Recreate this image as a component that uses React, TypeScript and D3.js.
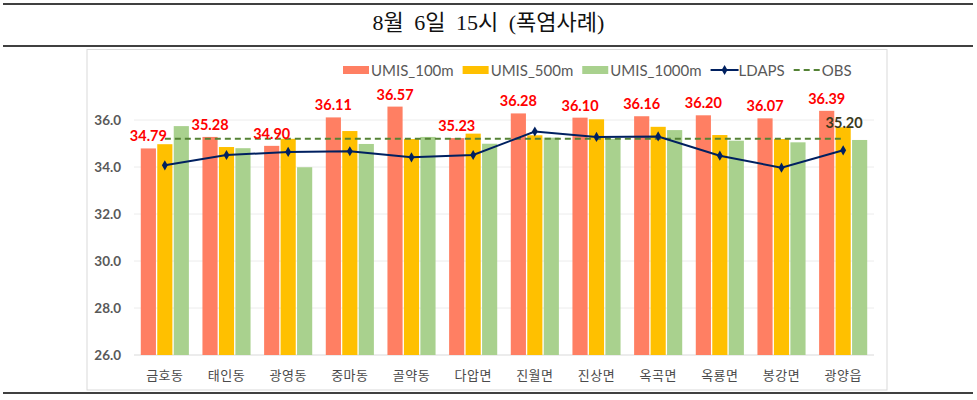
import React, { useRef, useEffect } from 'react';
import * as d3 from 'd3';

const categories = ['금호동', '태인동', '광영동', '중마동', '골약동', '다압면', '진월면', '진상면', '옥곡면', '옥룡면', '봉강면', '광양읍'];
const umis100 = [34.79, 35.28, 34.9, 36.11, 36.57, 35.23, 36.28, 36.1, 36.16, 36.2, 36.07, 36.39];
const umis500 = [34.97, 34.85, 35.2, 35.53, 35.19, 35.42, 35.35, 36.03, 35.71, 35.36, 35.19, 35.69];
const umis1000 = [35.74, 34.8, 33.99, 34.98, 35.28, 34.99, 35.25, 35.2, 35.57, 35.12, 35.05, 35.15];
const ldaps = [34.07, 34.51, 34.64, 34.67, 34.41, 34.51, 35.51, 35.28, 35.3, 34.48, 33.97, 34.71];
const obs = 35.2;
const yTicks = [26, 28, 30, 32, 34, 36];
const title = '8월 6일 15시 (폭염사례)';

const barSeries = [
  { name: 'UMIS_100m', values: umis100, color: '#FF7F63' },
  { name: 'UMIS_500m', values: umis500, color: '#FFC000' },
  { name: 'UMIS_1000m', values: umis1000, color: '#A9D18E' },
];

const W = 977;
const H = 400;

export default function App() {
  const svgRef = useRef<SVGSVGElement>(null);

  useEffect(() => {
    const svg = d3.select(svgRef.current);
    svg.selectAll('*').remove();

    const left = 134, right = 874, top = 96.5, bottom = 355;
    const gray = '#595959';

    // Frame: title and rules
    svg.append('line').attr('x1', 3).attr('x2', 973).attr('y1', 4).attr('y2', 4)
      .attr('stroke', '#000').attr('stroke-width', 1.5);
    svg.append('line').attr('x1', 3).attr('x2', 973).attr('y1', 46).attr('y2', 46)
      .attr('stroke', '#000').attr('stroke-width', 1.5);
    svg.append('line').attr('x1', 3).attr('x2', 973).attr('y1', 393).attr('y2', 393)
      .attr('stroke', '#000').attr('stroke-width', 1.5);
    svg.append('text')
      .attr('x', W / 2).attr('y', 30)
      .attr('text-anchor', 'middle')
      .attr('font-family', '"Liberation Serif", "Noto Sans CJK KR", serif')
      .attr('font-size', 22)
      .attr('word-spacing', 5)
      .attr('fill', '#111')
      .text(title);

    // chart box
    svg.append('rect').attr('x', 87).attr('y', 49.5).attr('width', 800).attr('height', 340.5)
      .attr('fill', '#fff').attr('stroke', '#d9d9d9').attr('stroke-width', 1);

    const x = d3.scaleBand().domain(categories).range([left, right]).paddingInner(0.22).paddingOuter(0.11);
    const xi = d3.scaleBand().domain(barSeries.map(s => s.name)).range([0, x.bandwidth()]).paddingInner(0.08);
    const y = d3.scaleLinear().domain([26, 37]).range([bottom, top]);

    // grid
    svg.append('g').selectAll('line').data(yTicks).enter().append('line')
      .attr('x1', left).attr('x2', right)
      .attr('y1', d => y(d)).attr('y2', d => y(d))
      .attr('stroke', d => (d === 26 ? '#d9d9d9' : '#ececec'))
      .attr('stroke-width', 1);

    // y labels
    svg.append('g').selectAll('text').data(yTicks).enter().append('text')
      .attr('x', 121).attr('y', d => y(d) + 5)
      .attr('text-anchor', 'end')
      .attr('font-family', 'Lato, "Noto Sans", sans-serif')
      .attr('font-weight', 700)
      .attr('font-size', 13.5)
      .attr('fill', gray)
      .text(d => d.toFixed(1));

    // x labels
    svg.append('g').selectAll('text').data(categories).enter().append('text')
      .attr('x', d => (x(d) ?? 0) + x.bandwidth() / 2)
      .attr('y', 380)
      .attr('text-anchor', 'middle')
      .attr('font-family', '"Noto Sans CJK KR", sans-serif')
      .attr('font-size', 13)
      .attr('letter-spacing', 0.5)
      .attr('fill', '#4a4a4a')
      .text(d => d);

    // bars
    barSeries.forEach(s => {
      svg.append('g').selectAll('rect').data(s.values).enter().append('rect')
        .attr('x', (_, i) => (x(categories[i]) ?? 0) + (xi(s.name) ?? 0))
        .attr('y', d => y(d))
        .attr('width', xi.bandwidth())
        .attr('height', d => bottom - y(d))
        .attr('fill', s.color);
    });

    const cx = (i: number) => (x(categories[i]) ?? 0) + x.bandwidth() / 2;

    // OBS dashed line
    const obsLine = d3.line<number>().x((_, i) => cx(i)).y(() => y(obs));
    svg.append('path').datum(categories.map(() => obs))
      .attr('d', obsLine)
      .attr('fill', 'none')
      .attr('stroke', '#548235')
      .attr('stroke-width', 2)
      .attr('stroke-dasharray', '6,4');

    // LDAPS line
    const ldLine = d3.line<number>().x((_, i) => cx(i)).y(d => y(d));
    svg.append('path').datum(ldaps)
      .attr('d', ldLine)
      .attr('fill', 'none')
      .attr('stroke', '#002060')
      .attr('stroke-width', 2);
    const diamond = d3.symbol().type(d3.symbolDiamond).size(30);
    svg.append('g').selectAll('path').data(ldaps).enter().append('path')
      .attr('d', diamond)
      .attr('transform', (d, i) => `translate(${cx(i)},${y(d)})`)
      .attr('fill', '#002060');

    // red labels
    svg.append('g').selectAll('text').data(umis100).enter().append('text')
      .attr('x', (_, i) => (x(categories[i]) ?? 0) + (xi('UMIS_100m') ?? 0) + xi.bandwidth() / 2)
      .attr('y', d => y(d) - 7)
      .attr('text-anchor', 'middle')
      .attr('font-family', 'Lato, "Noto Sans", sans-serif')
      .attr('font-weight', 700)
      .attr('font-size', 14.5)
      .attr('fill', '#FF0000')
      .text(d => d.toFixed(2));

    // OBS value label
    svg.append('text')
      .attr('x', cx(categories.length - 1) + 1)
      .attr('y', y(obs) - 11)
      .attr('text-anchor', 'middle')
      .attr('font-family', 'Lato, "Noto Sans", sans-serif')
      .attr('font-weight', 700)
      .attr('font-size', 14.5)
      .attr('fill', '#3a3a1c')
      .text(obs.toFixed(2));

    // legend
    const lg = svg.append('g').attr('font-family', 'Lato, "Noto Sans", sans-serif').attr('font-size', 15).attr('fill', gray);
    const legendItems = [
      ...barSeries.map(s => ({ name: s.name, kind: 'bar', color: s.color })),
      { name: 'LDAPS', kind: 'line', color: '#002060' },
      { name: 'OBS', kind: 'dash', color: '#548235' },
    ];
    let lx = 343;
    const ly = 70;
    legendItems.forEach(it => {
      if (it.kind === 'bar') {
        lg.append('rect').attr('x', lx).attr('y', ly - 4).attr('width', 26).attr('height', 8).attr('fill', it.color);
      } else if (it.kind === 'line') {
        lg.append('line').attr('x1', lx).attr('x2', lx + 28).attr('y1', ly).attr('y2', ly)
          .attr('stroke', it.color).attr('stroke-width', 2);
        lg.append('path').attr('d', diamond).attr('transform', `translate(${lx + 14},${ly})`).attr('fill', it.color);
      } else {
        lg.append('line').attr('x1', lx).attr('x2', lx + 26).attr('y1', ly).attr('y2', ly)
          .attr('stroke', it.color).attr('stroke-width', 2).attr('stroke-dasharray', '6,4');
      }
      const t = lg.append('text').attr('x', lx + 28).attr('y', ly + 5.5).text(it.name);
      const w = (t.node() as SVGTextElement).getComputedTextLength();
      lx += 28 + w + 9;
    });
  }, []);

  return (
    <div style={{ position: 'absolute', left: 0, top: 0 }}>
      <svg ref={svgRef} width={W} height={H} style={{ display: 'block', background: '#fff' }} />
    </div>
  );
}
